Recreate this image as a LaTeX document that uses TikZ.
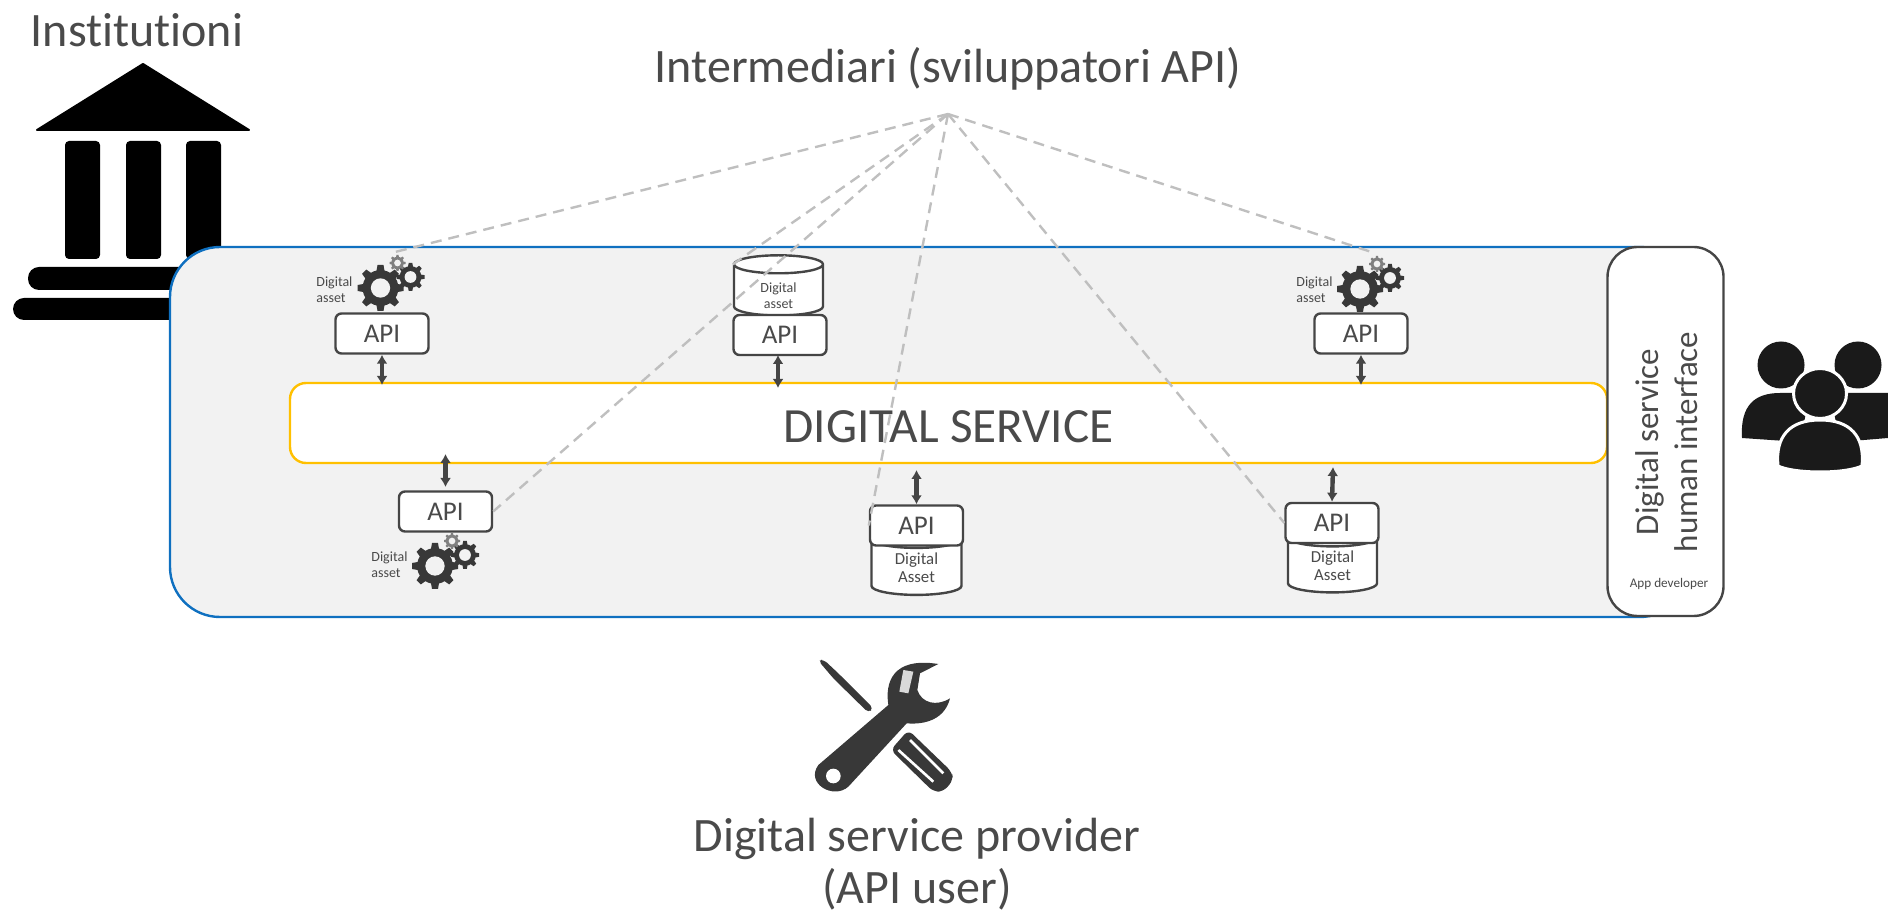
\documentclass[tikz,border=0pt]{standalone}
\usepackage{fontspec}
\setmainfont{Carlito}[Ligatures=NoCommon]
\usetikzlibrary{arrows.meta}
\usetikzlibrary{shapes.geometric}
\usetikzlibrary{positioning}
\definecolor{txtgrey}{HTML}{4A4A4A}
\definecolor{linegrey}{HTML}{454545}
\definecolor{bggrey}{HTML}{F2F2F2}
\definecolor{dashgrey}{HTML}{BFBFBF}
\definecolor{bluebox}{HTML}{0F70C0}
\definecolor{yellowbox}{HTML}{FFC000}
\definecolor{icongrey}{HTML}{383838}
\newcommand{\gearwheel}[4]{
\begin{scope}[shift={(#1pt,#2pt)}]
\foreach \a in {0,45,...,315} {\fill [#4, rotate=\a] (-0.2*#3pt,0.6*#3pt) -- (-0.13*#3pt,#3pt) -- (0.13*#3pt,#3pt) -- (0.2*#3pt,0.6*#3pt) -- cycle;}
\fill [#4] (0,0) circle (0.78*#3pt);
\fill [bggrey] (0,0) circle (0.42*#3pt);
\end{scope}}
\newcommand{\cylspace}{\hspace{20pt}\rule{0pt}{16pt}}
\tikzset{
apibox/.style={rectangle, rounded corners=3pt, minimum width=46.5pt, minimum height=20pt, fill=white, line width=1.2pt, draw=linegrey, text=txtgrey, font=\fontsize{13.5}{15}\selectfont},
dbcyl/.style={cylinder, shape border rotate=90, aspect=0.45, fill=white, line width=1.2pt, draw=linegrey},
smalltxt/.style={text=txtgrey, align=left, font=\fontsize{7}{8}\selectfont},
cyltxt/.style={text=txtgrey, align=center, font=\fontsize{8.4}{9}\selectfont},
bigtxt/.style={text=txtgrey, font=\fontsize{24}{28}\selectfont},
apiarrow/.style={line width=2.2pt, color=linegrey, {Latex[length=4.5pt,width=5.5pt]}-{Latex[length=4.5pt,width=5.5pt]}},
dashline/.style={line width=1.2pt, color=dashgrey, dash pattern=on 5.5pt off 3.5pt},
gearicon/.pic={
\gearwheel{0}{0}{11.5}{icongrey}
\gearwheel{15}{5.5}{7}{icongrey}
\gearwheel{8.5}{12.5}{4}{gray}
\coordinate (-tip) at (7.25pt,18pt);
}
}
\begin{document}
\begin{tikzpicture}
[every node/.style={inner sep=0pt}]
\useasboundingbox (0pt,0pt) rectangle (944pt,-456.5pt);
\begin{scope}[x=0.5pt,y=-0.5pt]
\fill [black, line join=round, draw=black, line width=1pt] (143,64) -- (37,130) -- (249,130) -- cycle;
\foreach \x in {65,126,186} {\fill [black, rounded corners=2pt] (\x,141) rectangle (\x+35,259);}
\fill [black, rounded corners=5.5pt] (28,267) rectangle (258,290);
\fill [black, rounded corners=5.5pt] (13,298) rectangle (273,320);
\end{scope}
\node (institutioni) [bigtxt] at (68.5pt, -15pt) {Institutioni};
\node (intermediari) [bigtxt] at (474pt, -34.5pt) {Intermediari (sviluppatori API)};
\coordinate (hub) at (474pt, -57pt);
\node (outerbox) [rectangle, rounded corners=25pt, minimum width=760pt, minimum height=185pt, fill=bggrey, line width=1.2pt, draw=bluebox] at (465pt, -216pt) {};
\node (service) [rectangle, rounded corners=8pt, minimum width=658.5pt, minimum height=40pt, fill=white, line width=1.2pt, draw=yellowbox] at (474.25pt, -211.5pt) {};
\node (servicetxt) [text=txtgrey, font=\fontsize{24.6}{30}\selectfont] at (474.25pt, -213.5pt) {DIGITAL SERVICE};
\node (hmi) [rectangle, rounded corners=15pt, minimum width=58pt, minimum height=184.5pt, fill=white, line width=1.2pt, draw=linegrey] at (832.75pt, -215.75pt) {};
\node (hmitext) [text=txtgrey, align=center, rotate=90, font=\fontsize{16.5}{19.5}\selectfont] at (833.5pt, -221pt) {Digital service\\human interface};
\node (appdev) [smalltxt, font=\fontsize{6.6}{8}\selectfont] at (834.5pt, -292pt) {App developer};
\node (cyl1) [dbcyl, minimum width=44.5pt, minimum height=28.5pt] at (389.25pt, -145.25pt) {\cylspace};
\node (cyl2) [dbcyl, minimum width=45pt, minimum height=32.5pt] at (458.25pt, -283.75pt) {\cylspace};
\node (cyl3) [dbcyl, minimum width=44.5pt, minimum height=32pt] at (666.25pt, -282.75pt) {\cylspace};
\node (cyl1txt) [cyltxt, font=\fontsize{7}{8}\selectfont] at (389.25pt, -148pt) {Digital\\asset};
\node (cyl2txt) [cyltxt] at (458.25pt, -284pt) {Digital\\Asset};
\node (cyl3txt) [cyltxt] at (666.25pt, -283pt) {Digital\\Asset};
\node (api1) [apibox] at (191pt, -166.75pt) {API};
\node (api2) [apibox] at (390pt, -167.5pt) {API};
\node (api3) [apibox] at (680.5pt, -166.75pt) {API};
\node (api4) [apibox] at (222.75pt, -255.75pt) {API};
\node (api5) [apibox] at (458.25pt, -262.75pt) {API};
\node (api6) [apibox] at (666pt, -261.5pt) {API};
\pic (gear1) at (190.25pt, -144pt) {gearicon};
\pic (gear2) at (680pt, -144.5pt) {gearicon};
\pic (gear3) at (217.5pt, -283pt) {gearicon};
\node (label1) [smalltxt, anchor=west] at (158pt, -145pt) {Digital\\asset};
\node (label2) [smalltxt, anchor=west] at (648pt, -145pt) {Digital\\asset};
\node (label3) [smalltxt, anchor=west] at (185.5pt, -282.5pt) {Digital\\asset};
\coordinate (s1) at (191pt, -192.5pt);
\coordinate (s2) at (389pt, -194pt);
\coordinate (s3) at (680.5pt, -192.5pt);
\coordinate (s4) at (222.75pt, -227pt);
\coordinate (s5) at (458.25pt, -235pt);
\coordinate (s6) at (666.5pt, -233.5pt);
\coordinate (a2) at (389pt, -177.5pt);
\coordinate (a4) at (222.75pt, -243.5pt);
\draw [apiarrow] (api1.south) to (s1);
\draw [apiarrow] (a2) to (s2);
\draw [apiarrow] (api3.south) to (s3);
\draw [apiarrow] (s4) to (a4);
\draw [apiarrow] (s5) to (api5.north);
\draw [apiarrow] (s6) to (api6.north);
\draw [dashline] (hub) to (gear1-tip);
\draw [dashline] (hub) to (gear2-tip);
\draw [dashline] (hub) to (cyl1.before top);
\draw [dashline] (hub) to (api4.east);
\draw [dashline] (hub) to (api5.west);
\draw [dashline] (hub) to (api6.west);
\begin{scope}[shift={(390pt,-320pt)},x=0.16667pt,y=-0.16667pt]
\fill [icongrey, rounded corners=2pt] (115,62) -- (130,58) -- (175,100) -- (280,205) -- (265,218) -- (160,115) -- cycle;
\fill [icongrey, rounded corners=3pt] (385,270) -- (515,395) -- (520,420) -- (490,455) -- (460,455) -- (332,330) -- cycle;
\draw [white, line width=1.3pt] (390,300) -- (490,400);
\draw [white, line width=1.3pt] (355,330) -- (460,425);
\fill [icongrey] (115,375) -- (325,195) .. controls (315,130) and (335,50) .. (475,72) -- (420,100) -- (412,150) .. controls (425,190) and (470,200) .. (510,175) .. controls (495,235) and (440,255) .. (380,250) -- (205,440) .. controls (160,480) and (75,430) .. (115,375) -- cycle;
\fill [white] (160,408) circle (22);
\fill [white!85!black] (370,90) -- (400,95) -- (385,160) -- (358,155) -- cycle;
\end{scope}
\node (provider) [bigtxt] at (458.5pt, -419.5pt) {Digital service provider};
\node (apiuser) [bigtxt] at (458.5pt, -444.5pt) {(API user)};
\begin{scope}[x=0.5pt,y=-0.5pt]
\definecolor{people}{HTML}{1A1A1A}
\fill [people] (1781,365) circle (11.75pt);
\fill [people] (1858,365) circle (11.75pt);
\fill [people] (1742,438) .. controls (1740,405) and (1755,393) .. (1780,393) -- (1810,393) -- (1800,442) -- cycle;
\fill [people] (1888,438) -- (1888,393) -- (1830,393) -- (1840,442) -- cycle;
\fill [people, draw=white, line width=1.5pt] (1820,393.5) ellipse (13.25pt and 12.5pt);
\fill [people, draw=white, line width=1.5pt] (1778,466) .. controls (1775,436) and (1790,420) .. (1820,420) .. controls (1850,420) and (1865,436) .. (1862,466) .. controls (1845,474) and (1795,474) .. (1778,466) -- cycle;
\end{scope}
\end{tikzpicture}
\end{document}
